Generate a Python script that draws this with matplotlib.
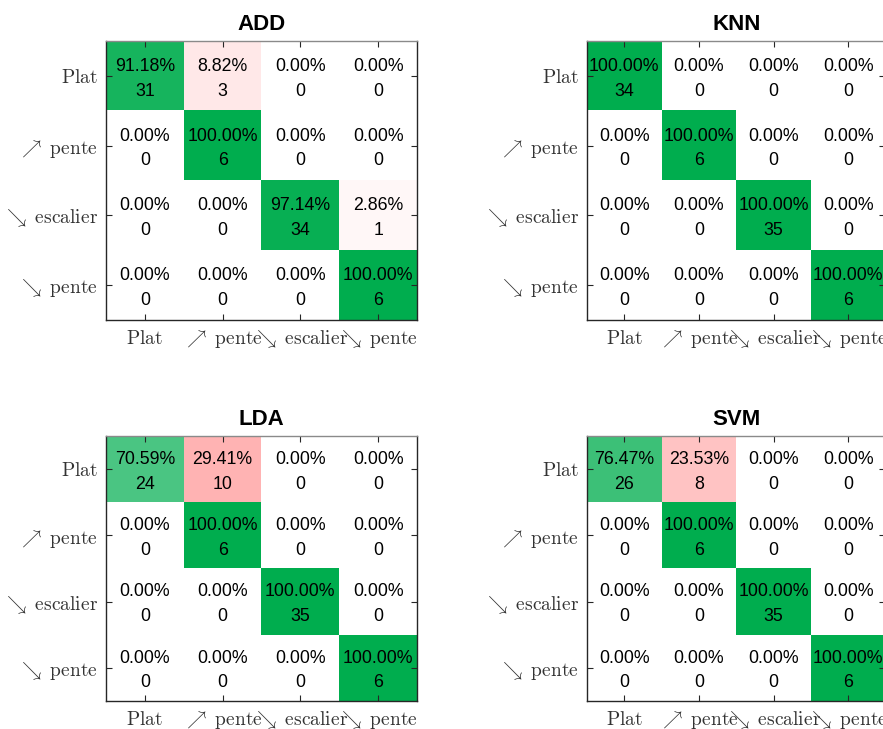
import numpy as np
import matplotlib
matplotlib.use("Agg")
import matplotlib.pyplot as plt

plt.rcParams['mathtext.fontset'] = 'cm'
plt.rcParams['font.family'] = ['Liberation Sans', 'DejaVu Sans']

# class labels (LaTeX-style names with arrows)
classes = [r'$\mathrm{Plat}$',
           r'$\nearrow\ \mathrm{pente}$',
           r'$\searrow\ \mathrm{escalier}$',
           r'$\searrow\ \mathrm{pente}$']

# confusion matrices (rows = true class, cols = predicted class)
cm_add = [[31, 3, 0, 0],
          [0, 6, 0, 0],
          [0, 0, 34, 1],
          [0, 0, 0, 6]]
cm_knn = [[34, 0, 0, 0],
          [0, 6, 0, 0],
          [0, 0, 35, 0],
          [0, 0, 0, 6]]
cm_lda = [[24, 10, 0, 0],
          [0, 6, 0, 0],
          [0, 0, 35, 0],
          [0, 0, 0, 6]]
cm_svm = [[26, 8, 0, 0],
          [0, 6, 0, 0],
          [0, 0, 35, 0],
          [0, 0, 0, 6]]

titles = ['ADD', 'KNN', 'LDA', 'SVM']
matrices = [cm_add, cm_knn, cm_lda, cm_svm]

green = np.array([0, 173, 78]) / 255.0
red = np.array([255, 0, 0]) / 255.0
white = np.ones(3)

# axes rectangles in figure fraction [left, bottom, width, height]
positions = [[0.1200, 0.5610, 0.3522, 0.3828],
             [0.6648, 0.5610, 0.3380, 0.3828],
             [0.1200, 0.0384, 0.3522, 0.3635],
             [0.6648, 0.0384, 0.3380, 0.3635]]

fig = plt.figure(figsize=(8.83, 7.29), dpi=100)

for title, cm, pos in zip(titles, matrices, positions):
    ax = fig.add_axes(pos)
    cm = np.array(cm, dtype=float)
    pct = cm / cm.sum(axis=1, keepdims=True) * 100
    n = cm.shape[0]

    # shade each cell: green on the diagonal, red off it, by row percentage
    rgb = np.zeros((n, n, 3))
    for i in range(n):
        for j in range(n):
            base = green if i == j else red
            a = pct[i, j] / 100.0
            rgb[i, j] = white * (1 - a) + base * a
    ax.imshow(rgb, aspect='auto', interpolation='nearest',
              extent=(-0.5, n - 0.5, n - 0.5, -0.5))

    for i in range(n):
        for j in range(n):
            ax.text(j, i + 0.04, f"{pct[i, j]:.2f}%\n{int(cm[i, j])}",
                    ha='center', va='center', fontsize=12.8,
                    linespacing=1.6, color='black')

    ax.set_title(title, fontsize=16, fontweight='bold', pad=8)
    ax.set_xticks(range(n))
    ax.set_yticks(range(n))
    ax.set_xticklabels(classes, fontsize=14, color='#333333', va='baseline')
    ax.set_yticklabels(classes, fontsize=14, color='#333333')
    ax.tick_params(direction='in', length=4, width=0.8, color='#262626',
                   top=True, right=True)
    ax.tick_params(axis='x', pad=17.5)
    ax.tick_params(axis='y', pad=6)
    for side, sp in ax.spines.items():
        sp.set_linewidth(1.0)
        sp.set_color('#262626')
    ax.spines['top'].set_color('#8a8a8a')
    ax.set_xlim(-0.5, n - 0.5)
    ax.set_ylim(n - 0.5, -0.5)

fig.savefig("out.png", dpi=100)
